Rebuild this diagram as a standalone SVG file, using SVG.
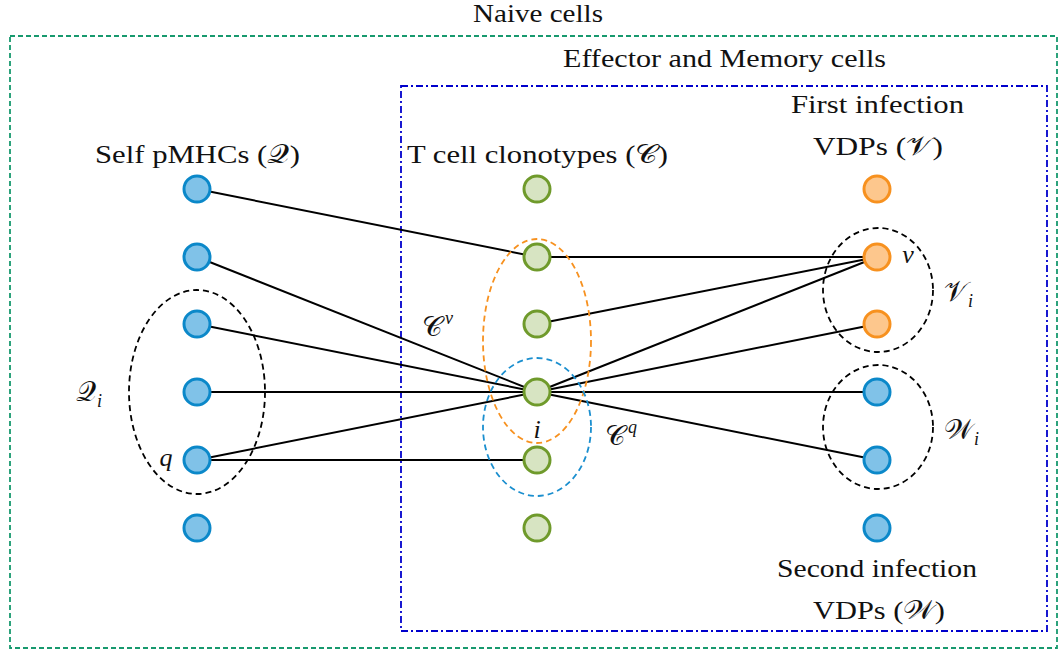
<svg xmlns="http://www.w3.org/2000/svg" width="1058" height="649" viewBox="0 0 1058 649">
<style>
text{font-family:"Liberation Serif","DejaVu Serif",serif;font-size:26px;fill:#111}
.lab{font-size:26px}
.m{font-style:italic}
.scr{font-size:28px}
.sub{font-size:18px;font-style:italic}
.e{stroke:#000;stroke-width:2;fill:none}
.b{fill:#80c2e8;stroke:#0b88c9;stroke-width:3}
.g{fill:#d7e4c2;stroke:#6f9a2b;stroke-width:3}
.o{fill:#fdc78d;stroke:#f7911f;stroke-width:3}
.ell{fill:none;stroke-width:1.8;stroke-dasharray:6 4}
</style>
<rect x="10" y="36" width="1047" height="612" fill="none" stroke="#17996e" stroke-width="1.8" stroke-dasharray="5 3"/>
<rect x="401" y="86" width="646" height="545" fill="none" stroke="#0000cc" stroke-width="1.8" stroke-dasharray="7 3 2 3"/>
<text x="473" y="22" textLength="130" lengthAdjust="spacingAndGlyphs">Naive cells</text>
<text x="563" y="67" textLength="323" lengthAdjust="spacingAndGlyphs">Effector and Memory cells</text>
<text x="791" y="113" textLength="173" lengthAdjust="spacingAndGlyphs">First infection</text>
<text x="813" y="155" textLength="130" lengthAdjust="spacingAndGlyphs">VDPs (𝒱)</text>
<text x="95" y="163" textLength="205" lengthAdjust="spacingAndGlyphs">Self pMHCs (𝒬)</text>
<text x="407" y="163" textLength="261" lengthAdjust="spacingAndGlyphs">T cell clonotypes (𝒞)</text>
<text x="777" y="577" textLength="200" lengthAdjust="spacingAndGlyphs">Second infection</text>
<text x="813" y="619" textLength="132" lengthAdjust="spacingAndGlyphs">VDPs (𝒲)</text>
<g id="connectors">
<line class="e" x1="197" y1="189" x2="537" y2="257"/>
<line class="e" x1="197" y1="257" x2="537" y2="392"/>
<line class="e" x1="197" y1="324" x2="537" y2="392"/>
<line class="e" x1="197" y1="392" x2="537" y2="392"/>
<line class="e" x1="197" y1="460" x2="537" y2="392"/>
<line class="e" x1="197" y1="460" x2="537" y2="460"/>
<line class="e" x1="537" y1="257" x2="877" y2="257"/>
<line class="e" x1="537" y1="324" x2="877" y2="257"/>
<line class="e" x1="537" y1="392" x2="877" y2="257"/>
<line class="e" x1="537" y1="392" x2="877" y2="324"/>
<line class="e" x1="537" y1="392" x2="877" y2="392"/>
<line class="e" x1="537" y1="392" x2="877" y2="460"/>
</g>
<g id="sets">
<ellipse id="Qi" class="ell" cx="197" cy="392" rx="68" ry="102" stroke="#000"/>
<ellipse id="Cv" class="ell" cx="537" cy="341" rx="54" ry="102" stroke="#f7911f"/>
<ellipse id="Cq" class="ell" cx="537" cy="427" rx="54" ry="69" stroke="#1b8fcf"/>
<ellipse id="Vi" class="ell" cx="878" cy="290" rx="55" ry="62" stroke="#000"/>
<ellipse id="Wi" class="ell" cx="878" cy="427" rx="55" ry="62" stroke="#000"/>
<text class="scr" x="76" y="401">𝒬<tspan class="sub" dx="1" dy="6">i</tspan></text>
<text class="scr" x="422" y="336">𝒞<tspan class="sub" dx="3" dy="-12">v</tspan></text>
<text class="scr" x="605" y="445">𝒞<tspan class="sub" dx="3" dy="-12">q</tspan></text>
<text class="scr" x="944" y="301">𝒱<tspan class="sub" dx="1" dy="6">i</tspan></text>
<text class="scr" x="944" y="439">𝒲<tspan class="sub" dx="1" dy="6">i</tspan></text>
<text class="m" x="166" y="466" text-anchor="middle">q</text>
<text class="m" x="537" y="438" text-anchor="middle">i</text>
<text class="m" x="908" y="263" text-anchor="middle">v</text>
</g>
<g id="left">
<circle id="q1" class="b" cx="197" cy="189" r="13"/>
<circle id="q2" class="b" cx="197" cy="257" r="13"/>
<circle id="q3" class="b" cx="197" cy="324" r="13"/>
<circle id="q4" class="b" cx="197" cy="392" r="13"/>
<circle id="q5" class="b" cx="197" cy="460" r="13"/>
<circle id="q6" class="b" cx="197" cy="528" r="13"/>
</g>
<g id="middle">
<circle id="c1" class="g" cx="537" cy="189" r="13"/>
<circle id="c2" class="g" cx="537" cy="257" r="13"/>
<circle id="c3" class="g" cx="537" cy="324" r="13"/>
<circle id="c4" class="g" cx="537" cy="392" r="13"/>
<circle id="c5" class="g" cx="537" cy="460" r="13"/>
<circle id="c6" class="g" cx="537" cy="528" r="13"/>
</g>
<g id="right">
<circle id="v1" class="o" cx="877" cy="189" r="13"/>
<circle id="v2" class="o" cx="877" cy="257" r="13"/>
<circle id="v3" class="o" cx="877" cy="324" r="13"/>
<circle id="w1" class="b" cx="877" cy="392" r="13"/>
<circle id="w2" class="b" cx="877" cy="460" r="13"/>
<circle id="w3" class="b" cx="877" cy="528" r="13"/>
</g>
</svg>
